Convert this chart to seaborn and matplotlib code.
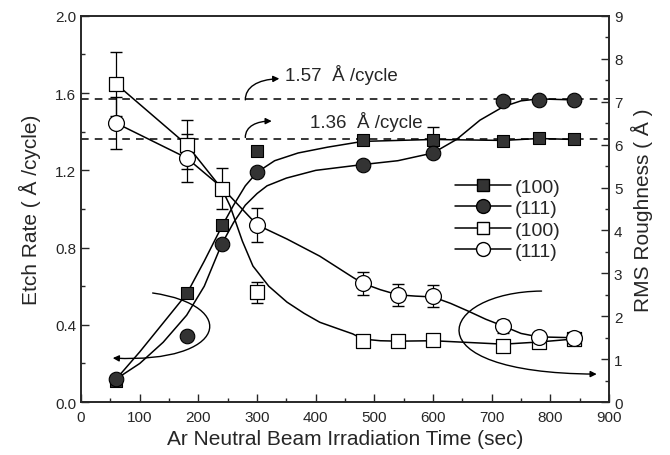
import numpy as np
import pandas as pd
import matplotlib
matplotlib.use("Agg")
import matplotlib.pyplot as plt
import seaborn as sns
from matplotlib.lines import Line2D
from matplotlib.path import Path
from matplotlib.patches import FancyArrowPatch
from matplotlib.ticker import MultipleLocator, FormatStrFormatter

# measured points: etch rate (left axis)
time_100_etch = [60, 180, 240, 300, 480, 600, 720, 780, 840]
etch_100 = [0.11, 0.565, 0.915, 1.30, 1.355, 1.355, 1.35, 1.37, 1.36]
etch_100_err = [0, 0, 0, 0, 0, 0.07, 0, 0, 0]
time_111_etch = [60, 180, 240, 300, 480, 600, 720, 780, 840]
etch_111 = [0.12, 0.34, 0.82, 1.19, 1.23, 1.29, 1.56, 1.565, 1.565]

# measured points: RMS roughness (right axis)
time_100_rms = [60, 180, 240, 300, 480, 540, 600, 720, 780, 840]
rms_100 = [7.41, 6.0, 4.97, 2.56, 1.42, 1.42, 1.45, 1.31, 1.40, 1.48]
rms_100_err = [0.75, 0.57, 0.48, 0.25, 0, 0, 0, 0, 0.1, 0.12]
time_111_rms = [60, 180, 300, 480, 540, 600, 720, 780, 840]
rms_111 = [6.5, 5.69, 4.13, 2.77, 2.50, 2.47, 1.77, 1.52, 1.50]
rms_111_err = [0.6, 0.56, 0.4, 0.27, 0.25, 0.25, 0.15, 0.1, 0.1]

# fitted guide curves
fit_100_etch_t = [60, 100, 140, 180, 210, 240, 260, 280, 300, 330, 370, 420, 480, 600, 720, 780, 840]
fit_100_etch = [0.12, 0.26, 0.41, 0.56, 0.73, 0.91, 1.02, 1.12, 1.19, 1.25, 1.29, 1.32, 1.35,
                1.36, 1.355, 1.365, 1.36]
fit_111_etch_t = [60, 100, 140, 180, 210, 240, 260, 280, 300, 317, 350, 400, 480, 540, 600,
                  640, 680, 720, 750, 780, 840]
fit_111_etch = [0.12, 0.20, 0.31, 0.45, 0.60, 0.82, 0.93, 1.02, 1.08, 1.12, 1.16, 1.20, 1.23,
                1.25, 1.29, 1.36, 1.46, 1.53, 1.56, 1.57, 1.565]
fit_100_rms_t = [60, 180, 240, 254, 275, 293, 320, 351, 380, 407, 440, 463, 480, 510, 540,
                 600, 660, 720, 780, 840]
fit_100_rms = [7.41, 6.0, 4.97, 4.57, 3.75, 3.17, 2.70, 2.33, 2.07, 1.86, 1.70, 1.59, 1.47,
               1.43, 1.42, 1.43, 1.39, 1.35, 1.40, 1.47]
fit_111_rms_t = [60, 180, 240, 300, 351, 407, 463, 480, 510, 540, 570, 600, 630, 660, 690,
                 720, 750, 780, 840]
fit_111_rms = [6.5, 5.69, 5.0, 4.13, 3.80, 3.40, 2.91, 2.77, 2.62, 2.50, 2.47, 2.45, 2.30,
               2.12, 1.93, 1.77, 1.60, 1.52, 1.50]

ref_levels = [1.57, 1.36]
ref_labels = ["1.57  Å /cycle", "1.36  Å /cycle"]
legend_labels = ["(100)", "(111)", "(100)", "(111)"]

sns.set_style("ticks")
plt.rcParams['font.family'] = ['Liberation Sans', 'DejaVu Sans']

fig, ax = plt.subplots(figsize=(6.7, 4.56), dpi=100)
fig.subplots_adjust(left=0.121, right=0.909, top=0.963, bottom=0.116)
ax2 = ax.twinx()

dark = "#333333"
lw = 1.1

def fit_line(axis, t, v):
    sns.lineplot(x=t, y=v, ax=axis, color="black", linewidth=lw, sort=False, zorder=2)

fit_line(ax, fit_100_etch_t, fit_100_etch)
fit_line(ax, fit_111_etch_t, fit_111_etch)
fit_line(ax2, fit_100_rms_t, fit_100_rms)
fit_line(ax2, fit_111_rms_t, fit_111_rms)

# reference dashed lines
for lev in ref_levels:
    ax.axhline(lev, color="black", linestyle=(0, (5, 4)), linewidth=1.1, zorder=1)

# error bars
ax.errorbar(time_100_etch, etch_100, yerr=etch_100_err, fmt="none", ecolor="black",
            elinewidth=0.9, capsize=4, zorder=3)
ax2.errorbar(time_100_rms, rms_100, yerr=rms_100_err, fmt="none", ecolor="black",
             elinewidth=0.9, capsize=4, zorder=3)
ax2.errorbar(time_111_rms, rms_111, yerr=rms_111_err, fmt="none", ecolor="black",
             elinewidth=0.9, capsize=4, zorder=3)

# markers
sns.scatterplot(x=time_100_etch, y=etch_100, ax=ax, marker="s", s=75, color=dark,
                edgecolor="black", linewidth=0.8, zorder=4)
sns.scatterplot(x=time_111_etch, y=etch_111, ax=ax, marker="o", s=110, color=dark,
                edgecolor="black", linewidth=0.8, zorder=4)
sns.scatterplot(x=time_100_rms, y=rms_100, ax=ax2, marker="s", s=110, color="white",
                edgecolor="black", linewidth=0.9, zorder=4)
sns.scatterplot(x=time_111_rms, y=rms_111, ax=ax2, marker="o", s=130, color="white",
                edgecolor="black", linewidth=0.9, zorder=4)

# axes
ax.set_xlim(0, 900)
ax.set_ylim(0, 2.0)
ax2.set_ylim(0, 9)
ax.xaxis.set_major_locator(MultipleLocator(100))
ax.xaxis.set_minor_locator(MultipleLocator(50))
ax.yaxis.set_major_locator(MultipleLocator(0.4))
ax.yaxis.set_minor_locator(MultipleLocator(0.2))
ax2.yaxis.set_major_locator(MultipleLocator(1))
ax2.yaxis.set_minor_locator(MultipleLocator(0.5))
ax.yaxis.set_major_formatter(FormatStrFormatter("%.1f"))

for a in (ax, ax2):
    a.tick_params(which="both", direction="in", labelsize=11, width=1.0)
    a.tick_params(which="major", length=6)
    a.tick_params(which="minor", length=3)
    for sp in a.spines.values():
        sp.set_visible(True)
        sp.set_linewidth(1.2)
ax.tick_params(axis="x", which="both", top=False, pad=6)
ax.tick_params(axis="y", which="both", right=False)
ax2.tick_params(axis="y", which="both", left=False)

ax.set_xlabel("Ar Neutral Beam Irradiation Time (sec)", fontsize=15, labelpad=3)
ax.set_ylabel("Etch Rate ( Å /cycle)", fontsize=15, labelpad=10)
ax2.set_ylabel("RMS Roughness ( Å )", fontsize=15, labelpad=6)

# annotations for the reference lines
ax.text(347, 1.70, ref_labels[0], fontsize=13.5, va="center", ha="left")
ax.text(390, 1.455, ref_labels[1], fontsize=13.5, va="center", ha="left")

def curved_arrow(axis, pts):
    path = Path(pts, [Path.MOVETO] + [Path.CURVE4] * (len(pts) - 1))
    arr = FancyArrowPatch(path=path, arrowstyle="-|>", mutation_scale=9,
                          color="black", linewidth=1.0,
                          transform=axis.transData, zorder=5)
    axis.add_patch(arr)

curved_arrow(ax, [(280, 1.565), (280, 1.63), (300, 1.67), (338, 1.675)])
curved_arrow(ax, [(280, 1.37), (280, 1.43), (300, 1.455), (325, 1.455)])
curved_arrow(ax, [(122, 0.565), (270, 0.5), (250, 0.2), (54, 0.228)])
curved_arrow(ax, [(785, 0.575), (610, 0.57), (555, 0.15), (879, 0.145)])

# legend
handles = [
    Line2D([], [], color="black", lw=lw, marker="s", markersize=8, markerfacecolor=dark, markeredgecolor="black"),
    Line2D([], [], color="black", lw=lw, marker="o", markersize=10, markerfacecolor=dark, markeredgecolor="black"),
    Line2D([], [], color="black", lw=lw, marker="s", markersize=9, markerfacecolor="white", markeredgecolor="black"),
    Line2D([], [], color="black", lw=lw, marker="o", markersize=10, markerfacecolor="white", markeredgecolor="black"),
]
ax2.legend(handles, legend_labels, loc="upper left", bbox_to_anchor=(0.69, 0.605),
           frameon=False, fontsize=14, handlelength=2.9, handletextpad=0.15,
           labelspacing=0.2, borderpad=0)

fig.savefig("out.png", dpi=100)
